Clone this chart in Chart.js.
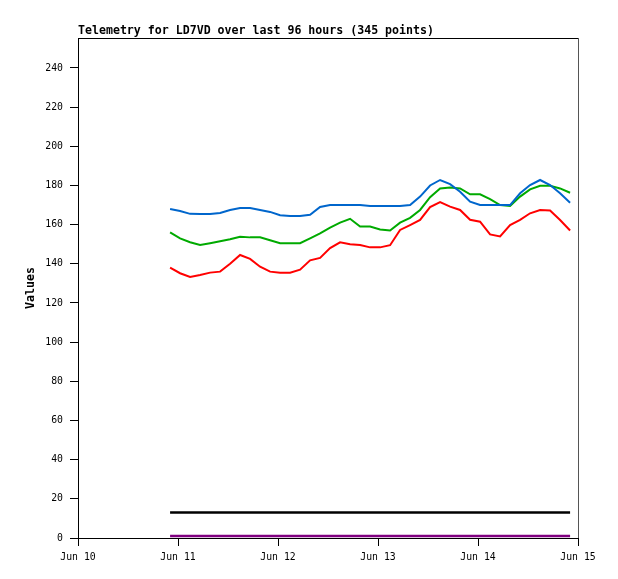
<!DOCTYPE html>
<html>
<head>
<meta charset="utf-8">
<script src="https://cdn.jsdelivr.net/npm/chart.js@4/dist/chart.umd.min.js"></script>
<style>
  html, body { margin: 0; padding: 0; background: #fff; }
  #wrap { width: 618px; height: 579px; }
</style>
</head>
<body>
<div id="wrap"><canvas id="telemetry" width="618" height="579"></canvas></div>
<script>
// hours since Jun 10 00:00
const hours = [22.1, 24.5, 26.9, 29.3, 31.7, 34.1, 36.5, 38.9, 41.3, 43.7, 46.1,
  48.5, 50.9, 53.3, 55.7, 58.1, 60.5, 62.9, 65.3, 67.7, 70.1, 72.5, 74.9, 77.3,
  79.7, 82.1, 84.5, 86.9, 89.3, 91.7, 94.1, 96.5, 98.9, 101.3, 103.7, 106.1,
  108.5, 110.9, 113.3, 115.7, 118.1];

const blueVals = [168, 167, 165.5, 165.4, 165.4, 166, 167.5, 168.5, 168.5, 167.5, 166.5,
  164.8, 164.4, 164.4, 165, 169, 170, 170, 170, 170, 169.5, 169.5, 169.5, 169.5,
  170, 174.3, 180, 182.8, 180.7, 176.8, 171.7, 170, 170, 170, 170, 176,
  180.2, 182.8, 180.2, 176, 171.2];

const greenVals = [156, 153, 151, 149.6, 150.5, 151.5, 152.5, 153.8, 153.5, 153.5, 152,
  150.5, 150.5, 150.5, 153, 155.5, 158.5, 161, 163, 159, 159, 157.5, 157, 161,
  163.5, 167.5, 174, 178.5, 179, 178.5, 175.5, 175.5, 173, 170, 169.5, 174.3,
  178, 179.8, 179.8, 178.5, 176.3];

const redVals = [138, 135.2, 133.3, 134.3, 135.5, 136, 140, 144.5, 142.5, 138.5, 136,
  135.5, 135.5, 137, 141.8, 143, 148, 151, 150, 149.6, 148.4, 148.4, 149.5, 157.3,
  159.8, 162.4, 169, 171.5, 169.2, 167.5, 162.5, 161.5, 155, 154, 159.8, 162.4,
  165.8, 167.5, 167.2, 162.4, 157];

const blackVals = [13, 13];
const blackHours = [22.1, 118.1];
const purpleVals = [1, 1];
const purpleHours = [22.1, 118.1];

const dayTicks = [0, 24, 48, 72, 96, 120];
const dayLabels = ['Jun 10', 'Jun 11', 'Jun 12', 'Jun 13', 'Jun 14', 'Jun 15'];
const yTicks = [0, 20, 40, 60, 80, 100, 120, 140, 160, 180, 200, 220, 240];

const titleText = 'Telemetry for LD7VD over last 96 hours (345 points)';
const mono = '"DejaVu Sans Mono", "Liberation Mono", monospace';

const toPoints = (xs, ys) => xs.map((h, i) => ({ x: h, y: ys[i] }));

const line = (data, color, width) => ({
  data,
  borderColor: color,
  borderWidth: width,
  pointRadius: 0,
  tension: 0,
  fill: false
});

// frame + title drawn around the plot area
const framePlugin = {
  id: 'frame',
  afterDraw(chart) {
    const { ctx, chartArea: a } = chart;
    ctx.save();
    ctx.strokeStyle = '#000';
    ctx.lineWidth = 1;
    ctx.beginPath();
    ctx.moveTo(a.left, a.top + 0.5);
    ctx.lineTo(a.right, a.top + 0.5);
    ctx.stroke();
    ctx.strokeStyle = '#555';
    ctx.beginPath();
    ctx.moveTo(a.right + 0.5, a.top);
    ctx.lineTo(a.right + 0.5, a.bottom);
    ctx.stroke();
    ctx.fillStyle = '#000';
    ctx.font = 'bold 11.6px ' + mono;
    ctx.textBaseline = 'alphabetic';
    ctx.fillText(titleText, a.left, a.top - 4);
    ctx.restore();
  }
};

new Chart(document.getElementById('telemetry').getContext('2d'), {
  type: 'line',
  data: {
    datasets: [
      line(toPoints(hours, blueVals), '#0066cc', 2),
      line(toPoints(hours, greenVals), '#00aa00', 2),
      line(toPoints(hours, redVals), '#ff0000', 2),
      line(toPoints(blackHours, blackVals), '#000000', 2.5),
      line(toPoints(purpleHours, purpleVals), '#800080', 2.5)
    ]
  },
  options: {
    responsive: false,
    animation: false,
    layout: { padding: { top: 38, right: 40, left: 0, bottom: 0 } },
    plugins: {
      legend: { display: false },
      tooltip: { enabled: false }
    },
    scales: {
      x: {
        type: 'linear',
        min: 0,
        max: 120,
        afterBuildTicks: (s) => { s.ticks = dayTicks.map(v => ({ value: v })); },
        afterFit: (s) => { s.height = 41; },
        grid: { drawOnChartArea: false, drawTicks: true, tickLength: 8, color: '#000' },
        border: { color: '#000', width: 1 },
        ticks: {
          color: '#000',
          padding: 6,
          maxRotation: 0,
          font: { family: mono, size: 9.8 },
          callback: (v) => dayLabels[dayTicks.indexOf(v)]
        }
      },
      y: {
        min: 0,
        max: 255.3,
        afterBuildTicks: (s) => { s.ticks = yTicks.map(v => ({ value: v })); },
        afterFit: (s) => { s.width = 78; },
        grid: { drawOnChartArea: false, drawTicks: true, tickLength: 8, color: '#000' },
        border: { color: '#000', width: 1 },
        ticks: {
          color: '#000',
          padding: 7,
          font: { family: mono, size: 9.8 }
        },
        title: {
          display: true,
          text: 'Values',
          color: '#000',
          padding: { top: 24.5, bottom: 0 },
          font: { family: mono, size: 11.6, weight: 'bold' }
        }
      }
    }
  },
  plugins: [framePlugin]
});
</script>
</body>
</html>
